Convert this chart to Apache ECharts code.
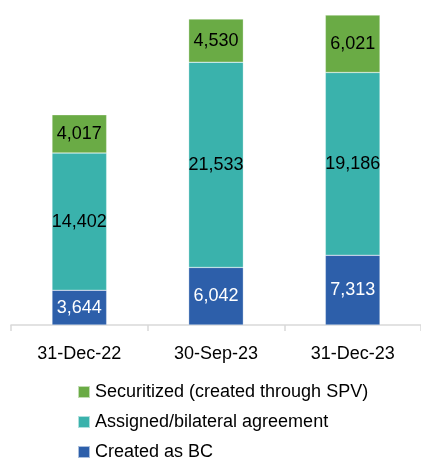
<!DOCTYPE html>
<html>
<head>
<meta charset="utf-8">
<style>html,body{margin:0;padding:0;background:#fff;}#c{width:421px;height:458px;}</style>
<script src="https://cdn.jsdelivr.net/npm/echarts@6/dist/echarts.min.js"></script>
</head>
<body>
<div id="c"></div>
<script>
const categories = ['31-Dec-22', '30-Sep-23', '31-Dec-23'];
const createdAsBC = [3644, 6042, 7313];
const assigned = [14402, 21533, 19186];
const securitized = [4017, 4530, 6021];
const seriesNames = ['Created as BC', 'Assigned/bilateral agreement', 'Securitized (created through SPV)'];

const FONT = 'Liberation Sans';
const fmt = p => Number(p.value).toLocaleString('en-US');
const chart = echarts.init(document.getElementById('c'));
function mk(name, data, color, labelColor) {
  return {
    name: name, type: 'bar', stack: 'total', data: data, barWidth: '40%',
    itemStyle: { color: color, borderColor: 'rgba(255,255,255,0.6)', borderWidth: 0.5 },
    label: { show: true, position: 'inside', formatter: fmt, color: labelColor, fontFamily: FONT, fontSize: 18 },
    emphasis: { disabled: true }
  };
}
chart.setOption({
  animation: false,
  grid: { left: 11, top: 1, width: 412, bottom: 133, containLabel: false },
  xAxis: {
    type: 'category', data: categories,
    axisLine: { lineStyle: { color: '#d9d9d9', width: 1.5 } },
    axisTick: { show: true, length: 6, lineStyle: { color: '#d9d9d9', width: 1.5 } },
    axisLabel: { color: '#000', fontFamily: FONT, fontSize: 18, margin: 20 }
  },
  yAxis: { type: 'value', min: 0, max: 34000, show: false, splitLine: { show: false } },
  legend: {
    orient: 'vertical', left: 77, top: 382, height: 100, padding: 0,
    itemWidth: 12, itemHeight: 12, itemGap: 10,
    icon: 'rect',
    data: [seriesNames[2], seriesNames[1], seriesNames[0]],
    textStyle: { color: '#000', fontFamily: FONT, fontSize: 18, lineHeight: 20 }
  },
  series: [
    mk(seriesNames[0], createdAsBC, '#2d5faa', '#fff'),
    mk(seriesNames[1], assigned, '#3ab2ac', '#000'),
    mk(seriesNames[2], securitized, '#6aab45', '#000')
  ]
});
</script>
</body>
</html>
